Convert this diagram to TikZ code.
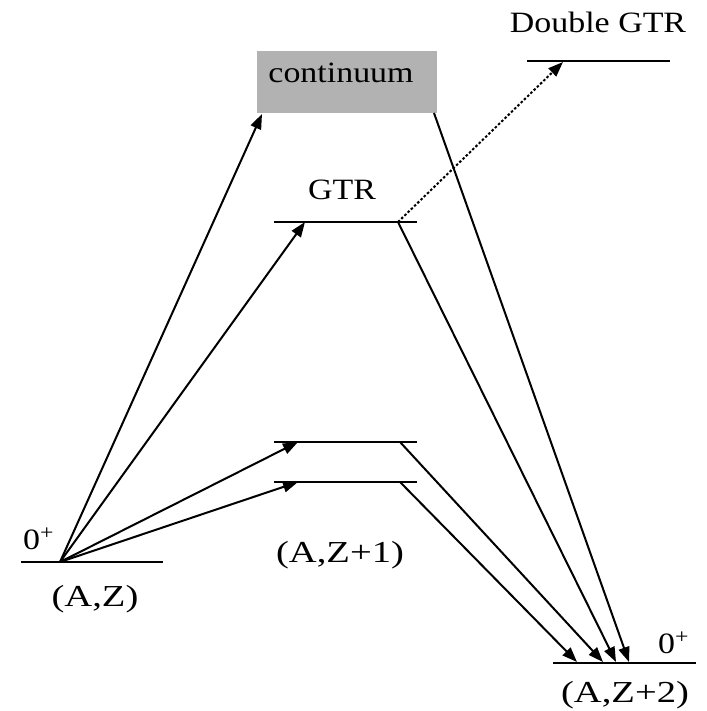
\documentclass[tikz,border=0pt]{standalone}
\usepackage{fontspec}
\setmainfont{Liberation Serif}
\usetikzlibrary{arrows.meta}
\begin{document}
\begin{tikzpicture}[x=1pt,y=-1pt,
  level/.style={line width=2.6pt},
  trans/.style={line width=2pt,-{Triangle[length=15pt,width=11pt]}},
  dottrans/.style={trans,dash pattern=on 2.5pt off 2pt},
  lbl/.style={inner sep=0pt,anchor=base,xscale=1.15,
    font=\fontsize{29.5}{32}\selectfont},
  statelbl/.style={lbl,xscale=1.1,font=\fontsize{30.5}{32}\selectfont}]
\useasboundingbox (0,0) rectangle (706,711);

% continuum box
\node[fill=black!30,minimum width=180pt,minimum height=62pt,inner sep=0pt,
  anchor=north west] (cont) at (257,51) {};
\node[lbl] (contlbl) at (341,83) {continuum};

% level end points
\coordinate (azL) at (21,562);   \coordinate (azR) at (163,562);
\coordinate (az)  at (60,562);
\coordinate (gtrL) at (274,222); \coordinate (gtrR) at (417,222);
\coordinate (dgL) at (527,61);   \coordinate (dgR) at (670,61);
\coordinate (l1L) at (274,442);  \coordinate (l1R) at (417,442);
\coordinate (l2L) at (274,482);  \coordinate (l2R) at (417,482);
\coordinate (fL) at (553,663);   \coordinate (fR) at (696,663);

% energy levels
\draw[level] (azL) -- (azR);
\draw[level] (gtrL) -- (gtrR);
\draw[level] (dgL) -- (dgR);
\draw[level] (l1L) -- (l1R);
\draw[level] (l2L) -- (l2R);
\draw[level] (fL) -- (fR);

% arrow anchors
\coordinate (contIn)  at (262,114);
\coordinate (contOut) at (434,113);
\coordinate (gtrIn)   at (305,222);
\coordinate (gtrOut)  at (398,222);
\coordinate (dgIn)    at (563,62);
\coordinate (l1In)    at (298,442);
\coordinate (l1Out)   at (400,442);
\coordinate (l2In)    at (298,482);
\coordinate (l2Out)   at (400,482);
\coordinate (f1) at (577,662);
\coordinate (f2) at (603,662);
\coordinate (f3) at (616,662);
\coordinate (f4) at (629,662);

% first step transitions
\draw[trans] (az) -- (contIn);
\draw[trans] (az) -- (gtrIn);
\draw[trans] (az) -- (l1In);
\draw[trans] (az) -- (l2In);
\draw[dottrans] (gtrOut) -- (dgIn);

% second step transitions
\draw[trans] (l2Out) -- (f1);
\draw[trans] (l1Out) -- (f2);
\draw[trans] (gtrOut) -- (f3);
\draw[trans] (contOut) -- (f4);

% labels
\node[lbl] (gtrlbl) at (342,200) {GTR};
\node[lbl] (dglbl) at (598,33) {Double GTR};
\node[lbl,anchor=base west] (spin0) at (23,549) {0\textsuperscript{+}};
\node[lbl,anchor=base west] (spin2) at (658,653) {0\textsuperscript{+}};
\node[statelbl] (azlbl) at (95,606) {(A,Z)};
\node[statelbl] (az1lbl) at (340,562) {(A,Z+1)};
\node[statelbl] (az2lbl) at (625,702) {(A,Z+2)};
\end{tikzpicture}
\end{document}
